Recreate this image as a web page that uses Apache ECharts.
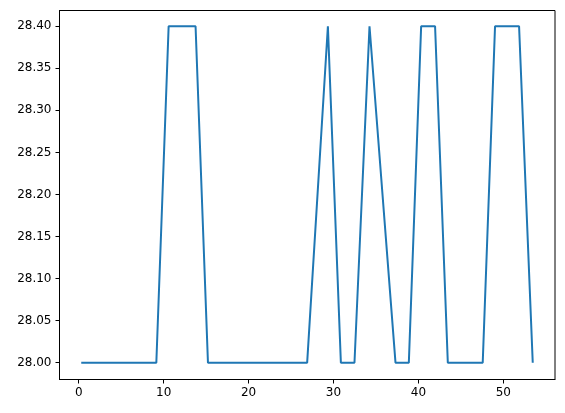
<!DOCTYPE html>
<html>
<head>
<meta charset="utf-8">
<script src="https://cdn.jsdelivr.net/npm/echarts@6/dist/echarts.min.js"></script>
<style>
html,body{margin:0;padding:0;background:#fff;}
#chart{width:565px;height:413px;}
</style>
</head>
<body>
<div id="chart"></div>
<script>
const xValues = [0.3, 9.14, 10.59, 13.76, 15.22, 26.9, 29.34, 30.87, 32.47, 34.24, 37.3, 38.87, 40.32, 41.96, 43.46, 47.57, 49.02, 51.85, 53.46];
const yValues = [28.0, 28.0, 28.4, 28.4, 28.0, 28.0, 28.4, 28.0, 28.0, 28.4, 28.0, 28.0, 28.4, 28.4, 28.0, 28.0, 28.4, 28.4, 28.0];
const xTicks = [0, 10, 20, 30, 40, 50];
const yTicks = [28.00, 28.05, 28.10, 28.15, 28.20, 28.25, 28.30, 28.35, 28.40];

const points = xValues.map((x, i) => [x, yValues[i]]);
const chart = echarts.init(document.getElementById('chart'), null, {renderer: 'canvas'});
const font = {fontFamily: 'DejaVu Sans', fontSize: 12, color: '#000'};
chart.setOption({
  animation: false,
  backgroundColor: '#fff',
  grid: {left: 59.5, right: 10, top: 10.5, bottom: 33.5, show: true, borderColor: '#000', borderWidth: 1, backgroundColor: 'transparent'},
  xAxis: {
    type: 'value', min: -2.26, max: 56.08,
    axisLine: {show: true, onZero: false, lineStyle: {color: '#000', width: 1}},
    axisTick: {show: true, inside: false, length: 4, customValues: xTicks, lineStyle: {color: '#000', width: 1}},
    axisLabel: Object.assign({customValues: xTicks, margin: 7, formatter: v => String(v)}, font),
    splitLine: {show: false}
  },
  yAxis: {
    type: 'value', min: 27.98, max: 28.4187,
    axisLine: {show: true, onZero: false, lineStyle: {color: '#000', width: 1}},
    axisTick: {show: true, inside: false, length: 4, customValues: yTicks, lineStyle: {color: '#000', width: 1}},
    axisLabel: Object.assign({customValues: yTicks, margin: 8, formatter: v => v.toFixed(2)}, font),
    splitLine: {show: false}
  },
  series: [{
    type: 'line',
    data: points,
    showSymbol: false,
    symbol: 'none',
    lineStyle: {color: '#1f77b4', width: 2},
    itemStyle: {color: '#1f77b4'}
  }]
});
</script>
</body>
</html>
